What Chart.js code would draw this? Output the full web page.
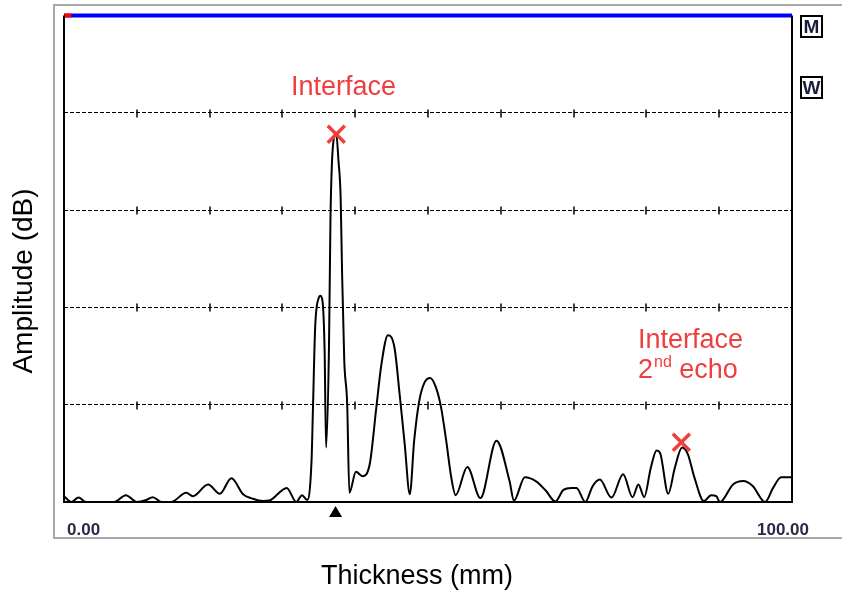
<!DOCTYPE html>
<html>
<head>
<meta charset="utf-8">
<script src="https://cdn.jsdelivr.net/npm/chart.js@4.4.1/dist/chart.umd.min.js"></script>
<style>
  html, body { margin: 0; padding: 0; background: #fff; }
  #wrap { width: 842px; height: 593px; }
</style>
</head>
<body>
<div id="wrap"><canvas id="scanChart" width="842" height="593"></canvas></div>
<script>
// A-scan trace, thickness in mm vs amplitude in % of screen height
const thickness = [0.0, 1.0, 2.0, 3.0, 6.9, 8.5, 10.0, 11.3, 12.2, 13.4, 14.7, 16.8, 17.7, 19.8, 21.4, 23.0, 24.6, 25.9, 27.3, 28.2,
  30.6, 31.9, 32.7, 33.4, 34.0, 34.2, 34.5, 35.0, 35.2, 35.5, 35.8, 36.0, 36.4, 36.6, 36.8, 37.1, 37.4, 37.7, 38.0, 38.2,
  38.5, 38.9, 39.2, 40.1, 41.0, 42.0, 42.9, 43.6, 44.5, 45.4, 46.1, 46.8, 47.5, 48.1, 48.8, 49.5, 50.3, 51.1, 51.8, 52.5,
  53.2, 53.8, 55.4, 57.2, 59.4, 61.2, 61.8, 63.3, 64.9, 66.2, 67.5, 68.6, 69.7, 70.4, 71.6, 72.6, 73.6, 75.2, 76.8, 78.1,
  78.9, 79.7, 80.6, 81.4, 81.9, 83.0, 83.9, 84.9, 85.7, 86.6, 87.9, 88.9, 89.6, 90.1, 91.9, 93.3, 94.6, 96.3, 97.4, 98.5, 100];
const amplitude = [1.2, 0, 0.9, 0, 0, 1.4, 0, 0.4, 1.0, 0, 0, 1.9, 1.2, 3.6, 1.7, 4.9, 1.6, 0.7, 0.2, 0.3,
  2.9, 0, 1.4, 0.4, 8.4, 19.4, 35.9, 42, 42.4, 41.4, 31, 11.2, 32, 57.8, 69.5, 75, 75.7, 70.2, 62.6, 46.9,
  29, 20.1, 1.9, 6.2, 5.3, 7.8, 19.4, 28.3, 34.3, 31.7, 22.2, 11.9, 1.6, 12.6, 20.8, 24.5, 25.5, 23.5, 19.4, 12.6,
  5, 1.4, 7.2, 0.8, 12.6, 4.3, 0.3, 5.1, 4.2, 2.3, 0.1, 2.5, 2.9, 2.9, 0, 3.2, 4.6, 0.9, 5.7, 1.0,
  3.6, 1.0, 7, 10.6, 10, 1.7, 7, 11.2, 9.8, 5, 0.2, 1.4, 1.2, 0, 3.6, 4.3, 3.3, 0, 2.9, 5.1, 5.1];

// marked echoes (X)
const echoX = [37.4, 84.8];
const echoY = [75.6, 12.3];

// gate line along the top
const gateX = [0, 100];
const gateRedX = [0, 1.0];
const gateLevel = 100;

const gridLevels = [20, 40, 60, 80];
const minorTicks = [10, 20, 30, 40, 50, 60, 70, 80, 90];
const rangeLabels = ['0.00', '100.00'];
const markerPos = 37.3;

const RED = '#ef3e3e';

const decor = {
  id: 'decor',
  afterDraw(chart) {
    const { ctx, chartArea: a, scales: { x, y } } = chart;
    ctx.save();

    // outer gray frame
    ctx.strokeStyle = '#a8a8a8';
    ctx.lineWidth = 2;
    ctx.strokeRect(54, 5, 800, 533);

    // small ticks crossing the dashed grid
    ctx.strokeStyle = '#000';
    ctx.lineWidth = 1.5;
    gridLevels.forEach(g => {
      const py = Math.round(y.getPixelForValue(g)) + 0.5;
      minorTicks.forEach(v => {
        const px = Math.round(x.getPixelForValue(v));
        ctx.beginPath();
        ctx.moveTo(px, py - 4);
        ctx.lineTo(px, py + 4);
        ctx.stroke();
      });
    });

    // plot frame: left, right, bottom
    ctx.lineWidth = 2;
    ctx.beginPath();
    ctx.moveTo(a.left, a.top);
    ctx.lineTo(a.left, a.bottom);
    ctx.lineTo(a.right, a.bottom);
    ctx.lineTo(a.right, a.top);
    ctx.stroke();

    // marker triangle under the axis
    const mx = x.getPixelForValue(markerPos);
    ctx.fillStyle = '#000';
    ctx.beginPath();
    ctx.moveTo(mx, a.bottom + 4);
    ctx.lineTo(mx - 6.5, a.bottom + 15);
    ctx.lineTo(mx + 6.5, a.bottom + 15);
    ctx.closePath();
    ctx.fill();

    // M / W buttons
    [['M', 15], ['W', 76]].forEach(([t, top]) => {
      ctx.fillStyle = '#fff';
      ctx.fillRect(800, top, 22, 22);
      ctx.strokeStyle = '#000';
      ctx.lineWidth = 2;
      ctx.strokeRect(801, top + 1, 21, 21);
      ctx.fillStyle = '#1c1c3c';
      ctx.font = 'bold 19px "Liberation Sans", Arial, sans-serif';
      ctx.textAlign = 'center';
      ctx.textBaseline = 'middle';
      ctx.fillText(t, 811.5, top + 12.5);
    });

    // range labels
    ctx.fillStyle = '#2a2a48';
    ctx.font = 'bold 17px "Liberation Sans", Arial, sans-serif';
    ctx.textBaseline = 'alphabetic';
    ctx.textAlign = 'left';
    ctx.fillText(rangeLabels[0], 67, 535);
    ctx.textAlign = 'right';
    ctx.fillText(rangeLabels[1], 809, 535);

    // axis titles
    ctx.fillStyle = '#000';
    ctx.font = '27px "Liberation Sans", Arial, sans-serif';
    ctx.textAlign = 'center';
    ctx.fillText('Thickness (mm)', 417, 584);
    ctx.save();
    ctx.translate(32, 281);
    ctx.rotate(-Math.PI / 2);
    ctx.font = '28px "Liberation Sans", Arial, sans-serif';
    ctx.fillText('Amplitude (dB)', 0, 0);
    ctx.restore();

    // annotations
    ctx.fillStyle = RED;
    ctx.font = '27px "Liberation Sans", Arial, sans-serif';
    ctx.textAlign = 'left';
    ctx.fillText('Interface', 291, 95);
    ctx.fillText('Interface', 638, 348);
    ctx.fillText('2', 638, 378);
    const w2 = ctx.measureText('2').width;
    ctx.font = '16px "Liberation Sans", Arial, sans-serif';
    ctx.fillText('nd', 638 + w2 + 1, 367);
    const wnd = ctx.measureText('nd').width;
    ctx.font = '27px "Liberation Sans", Arial, sans-serif';
    ctx.fillText(' echo', 638 + w2 + 1 + wnd, 378);

    ctx.restore();
  }
};

new Chart(document.getElementById('scanChart'), {
  type: 'line',
  data: {
    datasets: [
      {
        label: 'echo marks',
        data: echoX.map((v, i) => ({ x: v, y: echoY[i] })),
        showLine: false,
        pointStyle: 'crossRot',
        pointRadius: 12,
        pointBorderWidth: 3.5,
        pointBorderColor: RED,
        clip: false,
        order: 0
      },
      {
        label: 'gate start',
        data: gateRedX.map(v => ({ x: v, y: gateLevel })),
        borderColor: '#ff0000',
        borderWidth: 4,
        pointRadius: 0,
        clip: false,
        order: 1
      },
      {
        label: 'gate',
        data: gateX.map(v => ({ x: v, y: gateLevel })),
        borderColor: '#0000ff',
        borderWidth: 4,
        pointRadius: 0,
        clip: false,
        order: 2
      },
      {
        label: 'A-scan',
        data: thickness.map((v, i) => ({ x: v, y: amplitude[i] })),
        borderColor: '#000',
        borderWidth: 2,
        pointRadius: 0,
        cubicInterpolationMode: 'monotone',
        order: 3
      }
    ]
  },
  options: {
    responsive: false,
    animation: false,
    layout: { padding: { left: 64, top: 15, right: 50, bottom: 91 } },
    plugins: { legend: { display: false }, tooltip: { enabled: false } },
    scales: {
      x: { type: 'linear', min: 0, max: 100, display: false },
      y: {
        min: 0,
        max: 100,
        ticks: { display: false, stepSize: 20 },
        grid: {
          drawTicks: false,
          lineWidth: 1,
          color: c => (c.tick && (c.tick.value === 0 || c.tick.value === 100)) ? 'rgba(0,0,0,0)' : '#000'
        },
        border: { display: false, dash: [4, 2] }
      }
    }
  },
  plugins: [decor]
});
</script>
</body>
</html>
